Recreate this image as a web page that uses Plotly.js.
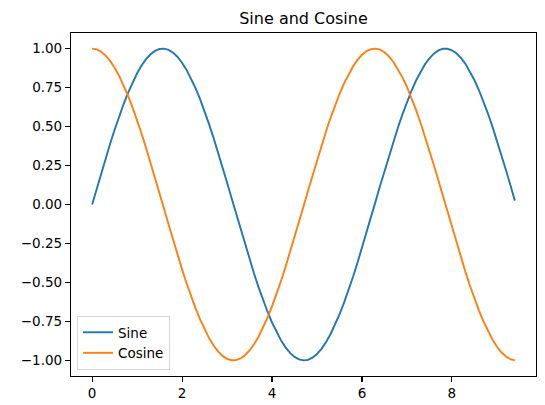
<!DOCTYPE html>
<html>
<head>
<meta charset="utf-8">
<script src="https://cdn.plot.ly/plotly-3.0.1.min.js"></script>
<style>html,body{margin:0;padding:0;background:#fff;}#chart{width:545px;height:405px;}</style>
</head>
<body>
<div id="chart"></div>
<script>
const xValues = [0.0,0.1,0.2,0.3,0.4,0.5,0.6,0.7,0.8,0.9,1.0,1.1,1.2,1.3,1.4,1.5,1.6,1.7,1.8,1.9,2.0,2.1,2.2,2.3,2.4,2.5,2.6,2.7,2.8,2.9,3.0,3.1,3.2,3.3,3.4,3.5,3.6,3.7,3.8,3.9,4.0,4.1,4.2,4.3,4.4,4.5,4.6,4.7,4.8,4.9,5.0,5.1,5.2,5.3,5.4,5.5,5.6,5.7,5.8,5.9,6.0,6.1,6.2,6.3,6.4,6.5,6.6,6.7,6.8,6.9,7.0,7.1,7.2,7.3,7.4,7.5,7.6,7.7,7.8,7.9,8.0,8.1,8.2,8.3,8.4,8.5,8.6,8.7,8.8,8.9,9.0,9.1,9.2,9.3,9.4];
const sineValues = [0.0000,0.0998,0.1987,0.2955,0.3894,0.4794,0.5646,0.6442,0.7174,0.7833,0.8415,0.8912,0.9320,0.9636,0.9854,0.9975,0.9996,0.9917,0.9738,0.9463,0.9093,0.8632,0.8085,0.7457,0.6755,0.5985,0.5155,0.4274,0.3350,0.2392,0.1411,0.0416,-0.0584,-0.1577,-0.2555,-0.3508,-0.4425,-0.5298,-0.6119,-0.6878,-0.7568,-0.8183,-0.8716,-0.9162,-0.9516,-0.9775,-0.9937,-0.9999,-0.9962,-0.9825,-0.9589,-0.9258,-0.8835,-0.8323,-0.7728,-0.7055,-0.6313,-0.5507,-0.4646,-0.3739,-0.2794,-0.1822,-0.0831,0.0168,0.1165,0.2151,0.3115,0.4048,0.4941,0.5784,0.6570,0.7290,0.7937,0.8504,0.8987,0.9380,0.9679,0.9882,0.9985,0.9989,0.9894,0.9699,0.9407,0.9022,0.8546,0.7985,0.7344,0.6630,0.5849,0.5010,0.4121,0.3191,0.2229,0.1245,0.0248];
const cosineValues = [1.0000,0.9950,0.9801,0.9553,0.9211,0.8776,0.8253,0.7648,0.6967,0.6216,0.5403,0.4536,0.3624,0.2675,0.1700,0.0707,-0.0292,-0.1288,-0.2272,-0.3233,-0.4161,-0.5048,-0.5885,-0.6663,-0.7374,-0.8011,-0.8569,-0.9041,-0.9422,-0.9710,-0.9900,-0.9991,-0.9983,-0.9875,-0.9668,-0.9365,-0.8968,-0.8481,-0.7910,-0.7259,-0.6536,-0.5748,-0.4903,-0.4008,-0.3073,-0.2108,-0.1122,-0.0124,0.0875,0.1865,0.2837,0.3780,0.4685,0.5544,0.6347,0.7087,0.7756,0.8347,0.8855,0.9275,0.9602,0.9833,0.9965,0.9999,0.9932,0.9766,0.9502,0.9144,0.8694,0.8157,0.7539,0.6845,0.6084,0.5261,0.4385,0.3466,0.2513,0.1534,0.0540,-0.0460,-0.1455,-0.2435,-0.3392,-0.4314,-0.5193,-0.6020,-0.6787,-0.7486,-0.8111,-0.8654,-0.9111,-0.9477,-0.9748,-0.9922,-0.9997];
const seriesNames = ['Sine', 'Cosine'];
const xTicks = [0, 2, 4, 6, 8];
const yTicks = [-1.0, -0.75, -0.5, -0.25, 0.0, 0.25, 0.5, 0.75, 1.0];
const chartTitle = 'Sine and Cosine';

const font = 'DejaVu Sans, sans-serif';
const traces = [
  {x: xValues, y: sineValues, name: seriesNames[0], type: 'scatter', mode: 'lines',
   line: {color: '#1f77b4', width: 1.9}},
  {x: xValues, y: cosineValues, name: seriesNames[1], type: 'scatter', mode: 'lines',
   line: {color: '#ff7f0e', width: 1.9}}
];
const axisCommon = {
  showgrid: false, zeroline: false, showline: true, mirror: true,
  linecolor: '#000', linewidth: 1.1, ticks: 'outside', ticklen: 5, tickwidth: 1.1,
  tickcolor: '#000', tickfont: {family: font, size: 13.5, color: '#000'}
};
const layout = {
  width: 545, height: 405,
  margin: {l: 71, r: 9, t: 33, b: 29},
  paper_bgcolor: '#fff', plot_bgcolor: '#fff',
  title: {text: chartTitle, font: {family: font, size: 16, color: '#000'},
          x: (71 + 536) / 2 / 545, xref: 'container', xanchor: 'center',
          y: 1 - 18 / 405, yref: 'container', yanchor: 'middle'},
  xaxis: Object.assign({}, axisCommon, {range: [-0.47, 9.87], tickmode: 'array', tickvals: xTicks,
          ticktext: xTicks.map(String)}),
  yaxis: Object.assign({}, axisCommon, {range: [-1.1, 1.1], tickmode: 'array', tickvals: yTicks,
          ticktext: yTicks.map(v => (v < 0 ? '\u2212' : '') + Math.abs(v).toFixed(2))}),
  showlegend: true,
  legend: {x: 0.013, y: 0.0175, xanchor: 'left', yanchor: 'bottom',
           bgcolor: 'rgba(255,255,255,0.8)', bordercolor: '#d6d6d6', borderwidth: 1,
           font: {family: font, size: 13.5, color: '#000'}, itemwidth: 30,
           tracegroupgap: 0}
};
Plotly.newPlot('chart', traces, layout, {displayModeBar: false, staticPlot: true});
</script>
</body>
</html>
